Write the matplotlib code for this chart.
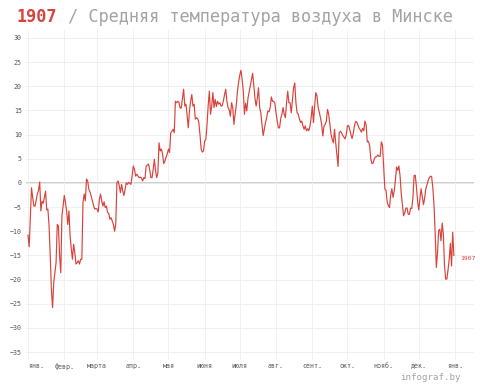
import numpy as np
import matplotlib
matplotlib.use('Agg')
from matplotlib import pyplot as plt

year = '1907'
title = 'Средняя температура воздуха в Минске'
month_labels = ['янв.', 'февр.', 'марта', 'апр.', 'мая', 'июня', 'июля',
                'авг.', 'сент.', 'окт.', 'нояб.', 'дек.', 'янв.']
yticks = list(range(-35, 31, 5))

# daily mean temperature, one list per month
jan = [-10.8, -13.2, -7, -1.0, -3, -4.8, -4.8, -3.5, -2.3, -1.5, 0.2, -5.8, -3.8, -4.2, -3, -1.7,
       -5.6, -5.4, -8.9, -15, -22, -25.8, -20.6, -18.6, -16.5, -8.6, -8.9, -15, -18.6, -6.8, -4.8]
feb = [-2.6, -4, -5.8, -8.6, -5.8, -11, -13.7, -15.8, -12.7, -14.4, -16.8, -16.5, -16.1, -16.8,
       -15.8, -15.8, -4.1, -2.3, -3.7, 0.8, 0.4, -1.3, -1.9, -2.7, -3.7, -4.6, -5.4, -5.3]
mar = [-5.4, -6, -3.4, -2.3, -3.7, -4.8, -3.9, -5.1, -4.8, -6.1, -6.3, -7.5, -7.2, -7.9, -8.6, -10,
       -8.6, 0.1, 0.4, -0.6, -2, -0.3, -1.7, -2.6, -1.3, 0, -0.3, 0.1, -0.1, -0.3, 1.5]
apr = [3.5, 2.8, 1.4, 1.8, 1.4, 1.1, 1.2, 1.0, 0.4, 1.1, 0.9, 3.5, 3.7, 3.9, 2.8, 1.1, 1.1, 2.8,
       4.9, 2.5, 1.1, 2.1, 8.3, 6.6, 7, 6, 4, 4.5, 5.3, 6]
may = [7, 6.3, 10.4, 10.7, 11.1, 10.4, 16.9, 16.6, 16.9, 16.7, 15.5, 15.5, 17.5, 19.4, 15.9, 16.3,
       14, 11.4, 14.9, 16.9, 18.3, 15.9, 16.3, 13.2, 13.5, 13.3, 12.5, 10, 7, 6.4, 6.6]
jun = [8.7, 9, 12, 16, 19, 14.2, 15.9, 18.7, 15.6, 17.3, 15.8, 16.9, 16.3, 16.6, 15.9, 16, 17,
       18.3, 19.4, 16.9, 15.6, 15.1, 13.8, 16.6, 15.6, 12.1, 14.2, 16, 19, 20.8]
jul = [22.3, 23.3, 21.5, 19, 14.2, 16.5, 14.9, 17.5, 18.8, 20, 21.5, 22.7, 20, 17.5, 15.9, 17.5,
       19.7, 15.6, 14.5, 12, 9.8, 11.1, 12.5, 13.5, 14.9, 14.7, 15.6, 17.8, 16.9, 16.9, 16.5]
aug = [14.5, 12.8, 11.4, 11.4, 13.3, 14.2, 15.6, 14.2, 13.5, 16.6, 19, 16.6, 16.6, 14.5, 17, 19.7,
       20.7, 16.6, 14.5, 14.2, 13.2, 12.5, 12.8, 11.8, 11.1, 11.8, 10.8, 11.2, 10.8, 11.8, 13.5]
sep = [15.9, 12.5, 15.9, 18.7, 18, 15.6, 14.5, 13.5, 12.1, 9.7, 11.8, 12.1, 12.8, 15.2, 14.2, 12.1,
       10.1, 9, 8.3, 11.1, 8.3, 5.9, 3.4, 10.4, 10.7, 10.4, 9.8, 9.5, 9.1, 10]
oct_ = [11.8, 11.9, 11, 10, 9.2, 10.2, 11.8, 12.7, 12.6, 12, 11.3, 11, 10.5, 11.3, 10.8, 12.8, 12,
        8.5, 8.6, 7.7, 5, 4, 4.1, 5, 5.4, 5.4, 5.8, 5.5, 5.5, 8.5, 7.8]
nov = [3.5, -1.2, -1.6, -4, -4.7, -5.1, -2.5, -1.2, -3, -1.7, 0.5, 3.3, 2.6, 3.5, 1.5, -2.2, -4.6,
       -6.8, -6.2, -5.2, -5.2, -6.5, -6.5, -5.2, -5.3, -3, 1.5, 1.6, -0.8, -3.8]
dec = [-5.6, -3.2, -1.2, -2.8, -4.5, -3.2, -1.2, -0.4, 0.5, 1.1, 1.4, 1.3, -1, -4.5, -10.3, -17.5,
       -14.5, -9.8, -9.6, -12, -8.3, -10.5, -17.2, -19.9, -19.9, -18, -15.8, -12.5, -17.2, -10.2, -15]

months = [jan, feb, mar, apr, may, jun, jul, aug, sep, oct_, nov, dec]
temps = np.concatenate(months)
days = np.arange(len(temps))
month_starts = np.concatenate([[0], np.cumsum([len(m) for m in months])])

red = '#d9423a'
plt.rcParams['font.family'] = ['DejaVu Sans Mono']

fig = plt.figure(figsize=(4.8, 3.89), dpi=100)
ax = fig.add_axes([26 / 480, 1 - 360 / 389, 448 / 480, 330 / 389])
ax.set_xlim(-1.71, 381.2)
ax.set_ylim(-36.65, 31.65)

ax.set_xticks(month_starts)
ax.set_xticklabels(month_labels)
ax.get_xticklabels()[0].set_horizontalalignment('left')
ax.set_yticks(yticks)
ax.grid(color='#eeeeee', lw=0.6, zorder=0)
ax.tick_params(length=0, labelsize=4.8, colors='#555555')
ax.tick_params(axis='x', pad=2)
ax.tick_params(axis='y', pad=3)
for s in ax.spines.values():
    s.set_visible(False)

ax.axhline(0, color='#cccccc', lw=1.3, zorder=1)
ax.plot(days, temps, color=red, lw=0.85, zorder=3)
ax.text(days[-1] + 5, temps[-1] - 0.6, year, color=red, fontsize=4.6, va='center', ha='left')

# title: red year, then the grey rest placed right after it
t_year = fig.text(17 / 480, 1 - 17 / 389, year, color=red, fontsize=12.2, fontweight='bold',
                  va='center', ha='left')
fig.canvas.draw()
bb = t_year.get_window_extent()
fig.text(bb.x1 / fig.bbox.width, 1 - 17 / 389, ' / ' + title, color='#a3a3a3',
         fontsize=12.2, va='center', ha='left')

fig.text(461 / 480, 1 - 378 / 389, 'infograf.by', color='#a3a3a3', fontsize=6.6,
         va='center', ha='right')

fig.savefig('out.png', dpi=100)
